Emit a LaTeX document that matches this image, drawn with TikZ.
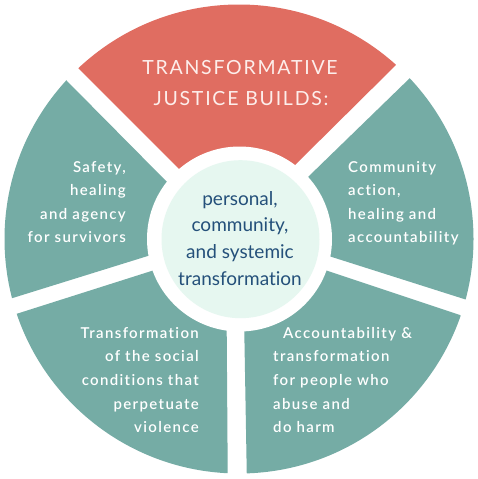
\documentclass[tikz,border=0pt]{standalone}
\usepackage{fontspec}
\usetikzlibrary{calc}
\setmainfont{Lato}[Ligatures={NoCommon,NoRare,NoDiscretionary}]
\newfontfamily\segfont[LetterSpace=9,Ligatures={NoCommon,NoRare,NoDiscretionary}]{Lato Semibold}
\newfontfamily\titlefont[LetterSpace=9,Ligatures={NoCommon,NoRare,NoDiscretionary}]{Lato}
\definecolor{tjred}{HTML}{E06D61}
\definecolor{tjteal}{HTML}{75ACA5}
\definecolor{tjmint}{HTML}{E6F7F0}
\definecolor{tjblue}{HTML}{24507A}
\definecolor{tjtitle}{HTML}{FDEEEB}
\tikzset{
  segtext/.style={text=white, inner sep=0pt, font=\segfont\fontsize{15}{18}\selectfont},
  segR/.style={segtext, anchor=base east},
  segL/.style={segtext, anchor=base west},
  ctext/.style={text=tjblue, inner sep=0pt, anchor=base, font=\fontsize{19}{23}\selectfont},
  ttext/.style={text=tjtitle, inner sep=0pt, anchor=base, font=\titlefont\fontsize{19.5}{24}\selectfont},
}
\begin{document}
\begin{tikzpicture}[x=1pt,y=-1pt]
\useasboundingbox (0,0) rectangle (477,479);
\fill[white] (0,0) rectangle (477,479);
\coordinate (C) at (239,239);
% gap edge lines: outer point a, inner point b
\coordinate (a1) at (78,68);     \coordinate (b1) at (178,168);
\coordinate (a2) at (67,81);     \coordinate (b2) at (167,182);
\coordinate (a3) at (11.7,298.3);\coordinate (b3) at (150,255.3);
\coordinate (a4) at (18.3,313.3);\coordinate (b4) at (153,270.5);
\coordinate (a5) at (227.7,471.7);\coordinate (b5) at (226.7,330);
\coordinate (a6) at (246.7,470); \coordinate (b6) at (244.3,331.7);
\coordinate (a7) at (460,315);   \coordinate (b7) at (328,271);
\coordinate (a8) at (465,299.3); \coordinate (b8) at (330,256.4);
\coordinate (a9) at (412,76);    \coordinate (b9) at (308,177);
\coordinate (a10) at (398,63);   \coordinate (b10) at (295,165);
\foreach \i in {1,...,10} {
  \coordinate (f\i) at ($(a\i)!-1!(b\i)$);
  \coordinate (n\i) at ($(b\i)!-0.25!(a\i)$);
}
% red top segment
\begin{scope}
  \clip (n1) -- (f1) -- (239,-300) -- (f10) -- (n10) -- cycle;
  \fill[tjred] (C) circle (234.5);
\end{scope}
% left top
\begin{scope}
  \clip (n2) -- (f2) -- (-300,150) -- (f3) -- (n3) -- cycle;
  \fill[tjteal] (C) circle (234.5);
\end{scope}
% left bottom
\begin{scope}
  \clip (n4) -- (f4) -- (-100,650) -- (f5) -- (n5) -- cycle;
  \fill[tjteal] (C) circle (234.5);
\end{scope}
% right bottom
\begin{scope}
  \clip (n6) -- (f6) -- (600,650) -- (f7) -- (n7) -- cycle;
  \fill[tjteal] (C) circle (234.5);
\end{scope}
% right top
\begin{scope}
  \clip (n8) -- (f8) -- (700,100) -- (f9) -- (n9) -- cycle;
  \fill[tjteal] (C) circle (234.5);
\end{scope}
% centre
\fill[white] (239.5,239) circle (92.5);
\fill[tjmint] (240.5,239.2) circle (79);
% title
\node[ttext] (t1) at (240,74) {TRANSFORMATIVE};
\node[ttext] (t2) at (241,105) {JUSTICE BUILDS:};
% centre text
\foreach \t [count=\i] in {{personal,},{community,},{and systemic},{transformation}}
  \node[ctext] (c\i) at (240,205+26.8*\i-26.8) {\t};
% left top
\foreach \t [count=\i] in {{Safety,},{healing},{and agency},{for survivors}}
  \node[segR] (lt\i) at (126,172.3+23.5*\i-23.5) {\t};
% right top
\foreach \t [count=\i] in {{Community},{action,},{healing and},{accountability}}
  \node[segL] (rt\i) at (348,172.3+23.5*\i-23.5) {\t};
% left bottom
\foreach \t [count=\i] in {{Transformation},{of the social},{conditions that},{perpetuate},{violence}}
  \node[segR] (lb\i) at (199,338.3+23.6*\i-23.6) {\t};
% right bottom
\node[segL] (rb1) at (283,338.3) {Accountability \&};
\foreach \t [count=\i from 2] in {{transformation},{for people who},{abuse and},{do harm}}
  \node[segL] (rb\i) at (273,338.3+23.6*\i-23.6) {\t};
\end{tikzpicture}
\end{document}
